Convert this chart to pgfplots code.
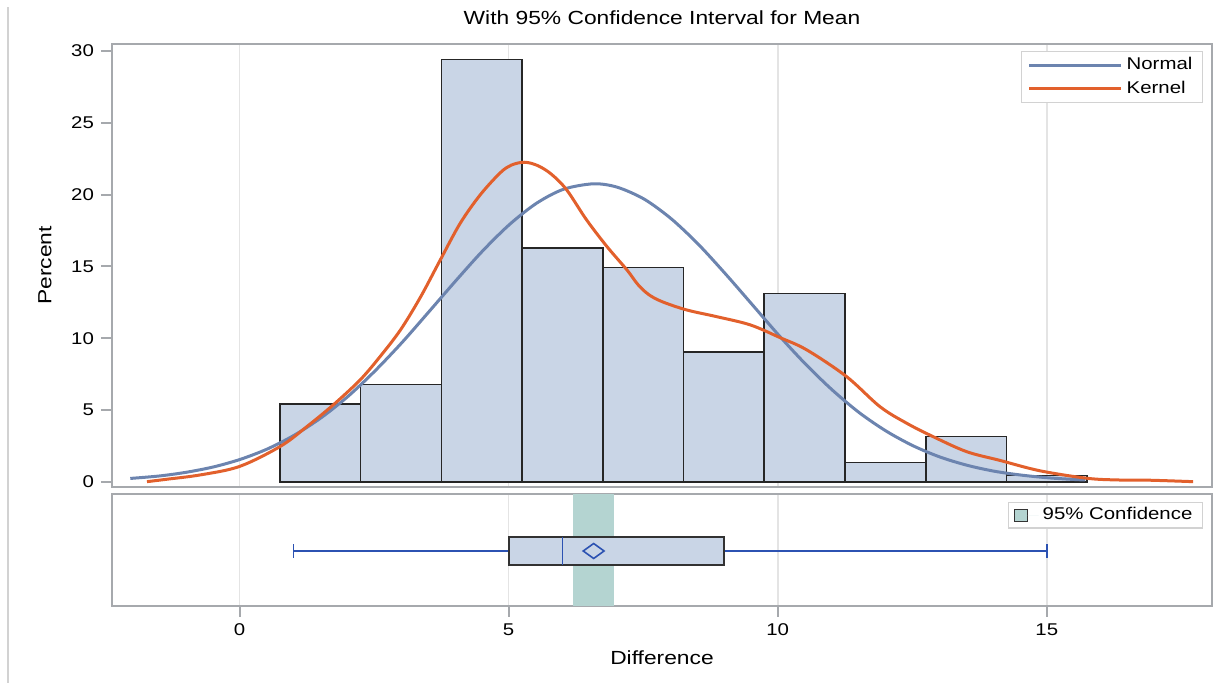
\documentclass[border=0pt]{standalone}
\usepackage{fontspec}
\setmainfont{Liberation Sans}[FakeStretch=1.2]
\usepackage{pgfplots}
\pgfplotsset{compat=1.18}
\definecolor{barfill}{RGB}{201,213,230}
\definecolor{normalc}{RGB}{108,132,175}
\definecolor{kernelc}{RGB}{226,96,44}
\definecolor{cic}{RGB}{180,212,209}
\definecolor{whisk}{RGB}{44,82,178}
\definecolor{axisgray}{RGB}{166,169,173}
\definecolor{gridc}{RGB}{228,228,228}
\definecolor{boxd}{RGB}{50,50,50}
\pgfplotsset{
  common/.style={
    scale only axis, width=550pt, xmin=-2.37, xmax=18.07,
    axis line style={draw=axisgray, line width=1pt},
    tick style={draw=axisgray, line width=1pt},
    major tick length=5.5pt, tick align=outside,
    xtick={0,5,10,15},
    xmajorgrids, major grid style={draw=gridc, line width=0.8pt},
    /pgf/number format/assume math mode=true,
    tick label style={font=\fontsize{8.5}{10}\selectfont},
    label style={font=\fontsize{9.5}{11}\selectfont},
    legend style={draw=gray!35, line width=0.6pt, fill=white,
      font=\fontsize{8.5}{10}\selectfont},
    legend cell align=left,
  }
}
\begin{document}
\begin{tikzpicture}
\path[use as bounding box] (0,0) rectangle (614pt,341.5pt);
\draw[gray!35, line width=1pt] (4pt,0pt) -- (4pt,338pt);
\begin{axis}[common,
  at={(56pt,98pt)}, anchor=south west, height=221.5pt,
  ymin=-0.35, ymax=30.48,
  ytick={0,5,10,15,20,25,30}, ytick pos=left,
  xticklabels={}, xtick style={draw=none},
  title={With 95\% Confidence Interval for Mean},
  every axis title shift=0pt,
  title style={font=\fontsize{9.5}{11}\selectfont, at={(axis description cs:0.5,1.044)}, anchor=base},
  ylabel={Percent},
  ylabel style={at={(axis description cs:-0.0609,0.5)}, anchor=center},
  legend style={at={(axis description cs:1,1)}, anchor=north east, xshift=-4.5pt, yshift=-3.5pt,
    row sep=0pt, inner ysep=1pt},
  legend image code/.code={\draw[#1] (0pt,0pt) -- (46pt,0pt);},
]
\addplot[ybar interval, fill=barfill, draw=black!85, line width=0.8pt, forget plot] coordinates {
(0.75,5.43) (2.25,6.79) (3.75,29.41) (5.25,16.29) (6.75,14.93) (8.25,9.05)
(9.75,13.12) (11.25,1.36) (12.75,3.17) (14.25,0.45) (15.75,0.45)};
\addplot[normalc, line width=1.5pt, smooth] coordinates {
(-2.03,0.245) (-1.48,0.42) (-0.98,0.68) (-0.48,1.05) (0.02,1.58) (0.52,2.30)
(1.02,3.26) (1.52,4.48) (2.02,5.97) (2.52,7.74) (3.02,9.71) (3.52,11.85)
(4.02,14.01) (4.52,16.09) (5.02,17.93) (5.52,19.40) (6.02,20.37) (6.58,20.75)
(7.02,20.51) (7.52,19.68) (8.02,18.32) (8.52,16.56) (9.02,14.52) (9.52,12.37)
(10.02,10.21) (10.52,8.19) (11.02,6.38) (11.52,4.81) (12.02,3.53) (12.52,2.51)
(13.02,1.73) (13.52,1.16) (14.02,0.75) (14.52,0.48) (15.02,0.29) (15.52,0.17)
(15.71,0.14)};
\addlegendentry{Normal}
\addplot[kernelc, line width=1.5pt, smooth, tension=0.55] coordinates {
(-1.72,0.02) (-1.35,0.19) (-0.73,0.49) (0.0,1.08) (0.76,2.48) (1.25,3.85)
(1.74,5.36) (2.24,7.10) (2.61,8.72) (2.99,10.58) (3.36,12.85) (3.73,15.45)
(4.10,18.0) (4.47,19.97) (4.84,21.5) (5.05,22.05) (5.3,22.25) (5.55,22.0)
(5.8,21.4) (6.08,20.32) (6.45,18.23) (6.83,16.37) (7.20,14.75) (7.40,13.75)
(7.60,13.05) (7.85,12.55) (8.31,11.97) (8.87,11.50) (9.49,10.93) (10.04,10.05)
(10.54,9.19) (11.28,7.33) (11.90,5.24) (12.40,4.08) (12.89,3.15) (13.51,2.11)
(14.13,1.5) (14.87,0.78) (15.74,0.26) (16.30,0.14) (16.92,0.12) (17.72,0.02)};
\addlegendentry{Kernel}
\end{axis}
\begin{axis}[common,
  at={(56pt,38.5pt)}, anchor=south west, height=56pt,
  ymin=0, ymax=1, ytick=\empty, xtick pos=bottom,
  xlabel={Difference},
  xlabel style={at={(axis description cs:0.5,-0.464)}, anchor=center},
  legend style={at={(axis description cs:1,1)}, anchor=north east, xshift=-4.5pt, yshift=-4pt,
    inner ysep=0.5pt},
]
\addplot[fill=cic, draw=none,
  legend image code/.code={\draw[fill=cic, draw=black!80, line width=0.6pt] (0pt,-3pt) rectangle (6.5pt,3pt); \path (0pt,0pt) -- (12pt,0pt);}]
  coordinates {(6.20,0) (6.96,0) (6.96,1) (6.20,1)} -- cycle;
\addlegendentry{95\% Confidence}
\addplot[whisk, line width=0.8pt, forget plot] coordinates {(1,0.491) (5,0.491)};
\addplot[whisk, line width=0.8pt, forget plot] coordinates {(9,0.491) (15,0.491)};
\addplot[whisk, line width=0.8pt, forget plot] coordinates {(1,0.429) (1,0.554)};
\addplot[whisk, line width=0.8pt, forget plot] coordinates {(15,0.429) (15,0.554)};
\addplot[fill=barfill, draw=boxd, line width=0.9pt, forget plot]
  coordinates {(5,0.366) (9,0.366) (9,0.616) (5,0.616)} -- cycle;
\addplot[whisk, line width=0.9pt, forget plot] coordinates {(6,0.366) (6,0.616)};
\addplot[only marks, mark=diamond, mark size=3.75pt, forget plot,
  mark options={xscale=1.85, draw=whisk, fill=barfill, line width=0.8pt}]
  coordinates {(6.58,0.491)};
\end{axis}
\end{tikzpicture}
\end{document}
